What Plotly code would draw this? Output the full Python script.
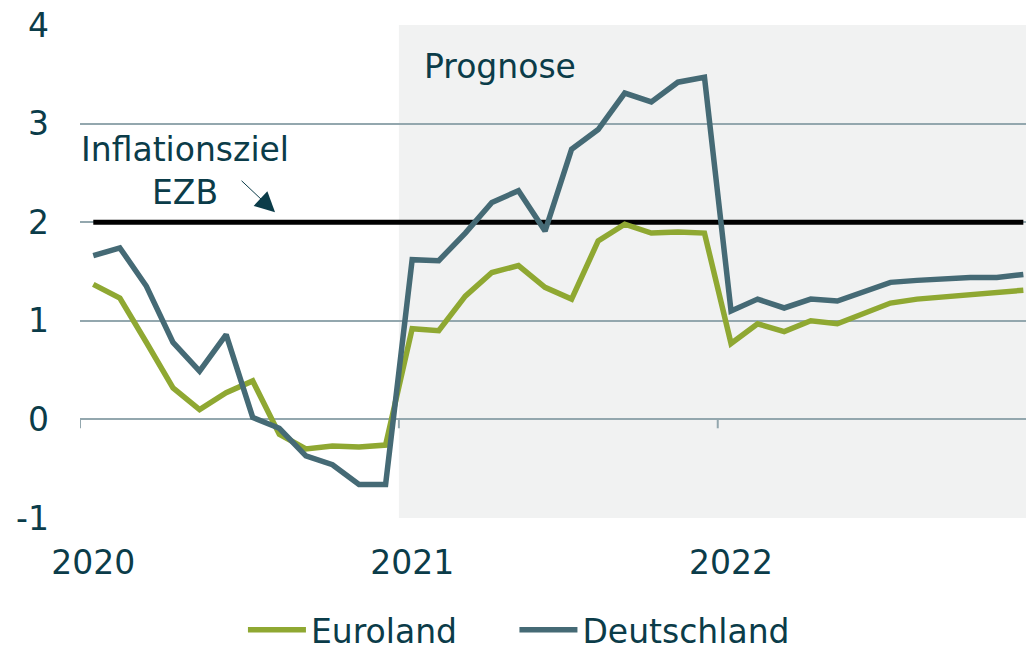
import plotly.graph_objects as go

# Monthly data Jan 2020 - Dec 2022 (index 0..35), plotted at mid-month
months = list(range(36))
euroland = [1.37, 1.23, 0.78, 0.32, 0.10, 0.27, 0.39, -0.15, -0.30, -0.27, -0.28, -0.26,
            0.92, 0.90, 1.25, 1.49, 1.56, 1.34, 1.22, 1.81, 1.98, 1.89, 1.90, 1.89,
            0.77, 0.97, 0.89, 1.00, 0.97, 1.08, 1.18, 1.22, 1.24, 1.26, 1.28, 1.31]
deutschland = [1.66, 1.74, 1.35, 0.78, 0.49, 0.86, 0.02, -0.09, -0.37, -0.46, -0.66, -0.66,
               1.62, 1.61, 1.89, 2.20, 2.32, 1.91, 2.74, 2.94, 3.31, 3.22, 3.42, 3.47,
               1.10, 1.22, 1.13, 1.22, 1.20, 1.29, 1.39, 1.41, 1.43, 1.44, 1.44, 1.47]
target = 2.0
year_labels = ["2020", "2021", "2022"]
year_starts = [0, 12, 24]
forecast_start = 12

TEXT = "#0b3c49"
GRID = "#93a7ae"
GREEN = "#8fa832"
SLATE = "#456a75"
FONT = "DejaVu Sans, Liberation Sans, Arial, sans-serif"
FS = 33
PAD = "\u00a0" * 5

xs = [m + 0.5 for m in months]

fig = go.Figure()
fig.add_trace(go.Scatter(x=[xs[0], xs[-1]], y=[target, target], mode="lines",
                         line=dict(color="black", width=5), showlegend=False,
                         hoverinfo="skip", cliponaxis=False))
fig.add_trace(go.Scatter(x=xs, y=euroland, mode="lines", name="Euroland" + PAD,
                         line=dict(color=GREEN, width=5.5), cliponaxis=False))
fig.add_trace(go.Scatter(x=xs, y=deutschland, mode="lines", name="Deutschland",
                         line=dict(color=SLATE, width=5.5), cliponaxis=False))

# forecast shading
fig.add_shape(type="rect", xref="x", yref="y", x0=forecast_start, x1=36, y0=-1, y1=4,
              fillcolor="#f1f2f2", line=dict(width=0), layer="below")
# ticks on zero line
for s in year_starts:
    fig.add_shape(type="line", xref="x", yref="y", x0=s, x1=s, y0=0, y1=-0.09,
                  line=dict(color=GRID, width=2))

fig.add_annotation(x=15.8, y=3.58, text="Prognose", showarrow=False,
                   font=dict(size=FS, color=TEXT, family=FONT))
fig.add_annotation(x=3.95, y=2.515, text="Inflationsziel<br>EZB", showarrow=False,
                   align="center", font=dict(size=FS, color=TEXT, family=FONT))
fig.add_annotation(x=7.34, y=2.10, text="", showarrow=True, ax=-35, ay=-33,
                   arrowhead=2, arrowsize=4, arrowwidth=1, arrowcolor=TEXT)

fig.update_layout(
    width=1026, height=650,
    margin=dict(l=80, r=0, t=25, b=132, autoexpand=False),
    paper_bgcolor="white", plot_bgcolor="white",
    font=dict(family=FONT, size=FS, color=TEXT),
    showlegend=True,
    legend=dict(orientation="h", x=0.464, xanchor="center", y=-0.227, yanchor="middle",
                font=dict(size=FS, color=TEXT, family=FONT), itemwidth=58,
                bgcolor="rgba(0,0,0,0)"),
    xaxis=dict(range=[0, 35.6], tickvals=[s + 0.5 for s in year_starts], ticktext=year_labels,
               showgrid=False, zeroline=False, showline=False, ticks="", automargin=False,
               ticklabelstandoff=22, tickfont=dict(size=FS, color=TEXT, family=FONT)),
    yaxis=dict(range=[-1, 4], tickvals=[-1, 0, 1, 2, 3, 4],
               ticktext=["-1", "0", "1", "2", "3", "4"],
               showgrid=True, gridcolor=GRID, gridwidth=2, automargin=False,
               zeroline=True, zerolinecolor=GRID, zerolinewidth=2,
               showline=False, ticks="", ticklabelstandoff=30,
               tickfont=dict(size=FS, color=TEXT, family=FONT)),
)

fig.write_html("out.html", config={"displayModeBar": False},
               post_script="document.body.style.margin='0';document.body.style.overflow='hidden';")
